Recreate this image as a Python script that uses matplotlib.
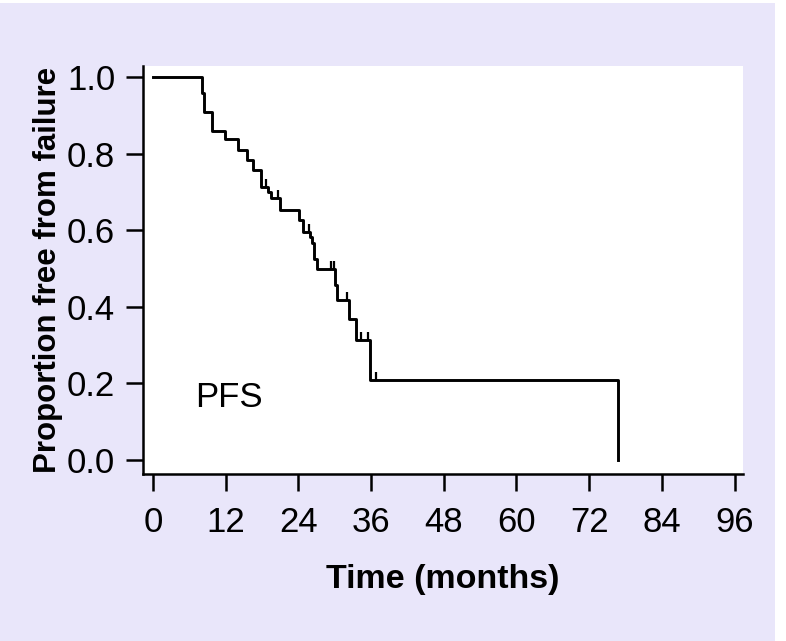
import numpy as np
import matplotlib
matplotlib.use("Agg")
import matplotlib.pyplot as plt
from matplotlib.markers import TICKUP
from matplotlib.patches import Rectangle

plt.rcParams['font.family'] = ['Liberation Sans', 'DejaVu Sans']

# Kaplan-Meier steps (months, proportion after the drop)
event_times = [0.0, 8.1, 8.4, 9.7, 11.9, 14.0, 15.5, 16.5, 17.9, 19.0, 19.5,
               21.0, 24.1, 24.7, 26.0, 26.3, 26.6, 27.1, 30.0, 30.4, 32.3,
               33.5, 35.8, 76.7]
surv = [1.0, 0.96, 0.91, 0.861, 0.838, 0.81, 0.785, 0.757, 0.714, 0.70, 0.686,
        0.654, 0.628, 0.597, 0.583, 0.568, 0.526, 0.50, 0.458, 0.419, 0.369,
        0.314, 0.209, 0.0]
censor_times = [18.6, 20.6, 25.8, 29.4, 29.9, 32.0, 34.3, 35.5, 36.8]

x_ticks = list(range(0, 97, 12))
y_ticks = [0.0, 0.2, 0.4, 0.6, 0.8, 1.0]
bg = '#e9e6fa'

fig = plt.figure(figsize=(7.86, 6.41), dpi=100, facecolor='white')
fig.patches.append(Rectangle((0, 0), 775 / 786, 1 - 3 / 641,
                             transform=fig.transFigure, facecolor=bg,
                             edgecolor='none', zorder=-10))
ax = fig.add_axes([143 / 786, 1 - 474 / 641, 600 / 786, 408 / 641])
ax.set_facecolor('white')

ax.step(event_times, surv, where='post', color='black', lw=2.1)

# censor ticks sit on the curve level at that time
idx = np.searchsorted(event_times, censor_times, side='right') - 1
censor_y = np.array(surv)[idx]
ax.plot(censor_times, censor_y, ls='none', marker=TICKUP, ms=6, mew=1.6,
        color='black')

ax.text(6.9, 0.162, 'PFS', fontsize=25, va='center', ha='left')

ax.set_xlim(-1.65, 97.4)
ax.set_ylim(-0.037, 1.03)
ax.set_xticks(x_ticks)
ax.set_yticks(y_ticks)
ax.set_yticklabels(['%.1f' % v for v in y_ticks])
for s in ['top', 'right']:
    ax.spines[s].set_visible(False)
for s in ['left', 'bottom']:
    ax.spines[s].set_linewidth(1.8)
ax.tick_params(axis='both', labelsize=25, length=12, width=1.8)
ax.tick_params(axis='x', pad=11)
ax.tick_params(axis='y', pad=8)

ax.set_xlabel('Time (months)', fontsize=24.5, fontweight='bold', labelpad=18)
ax.set_ylabel('Proportion free from failure', fontsize=22.5, fontweight='bold',
              labelpad=3)

fig.savefig('out.png', dpi=100, facecolor=fig.get_facecolor())
